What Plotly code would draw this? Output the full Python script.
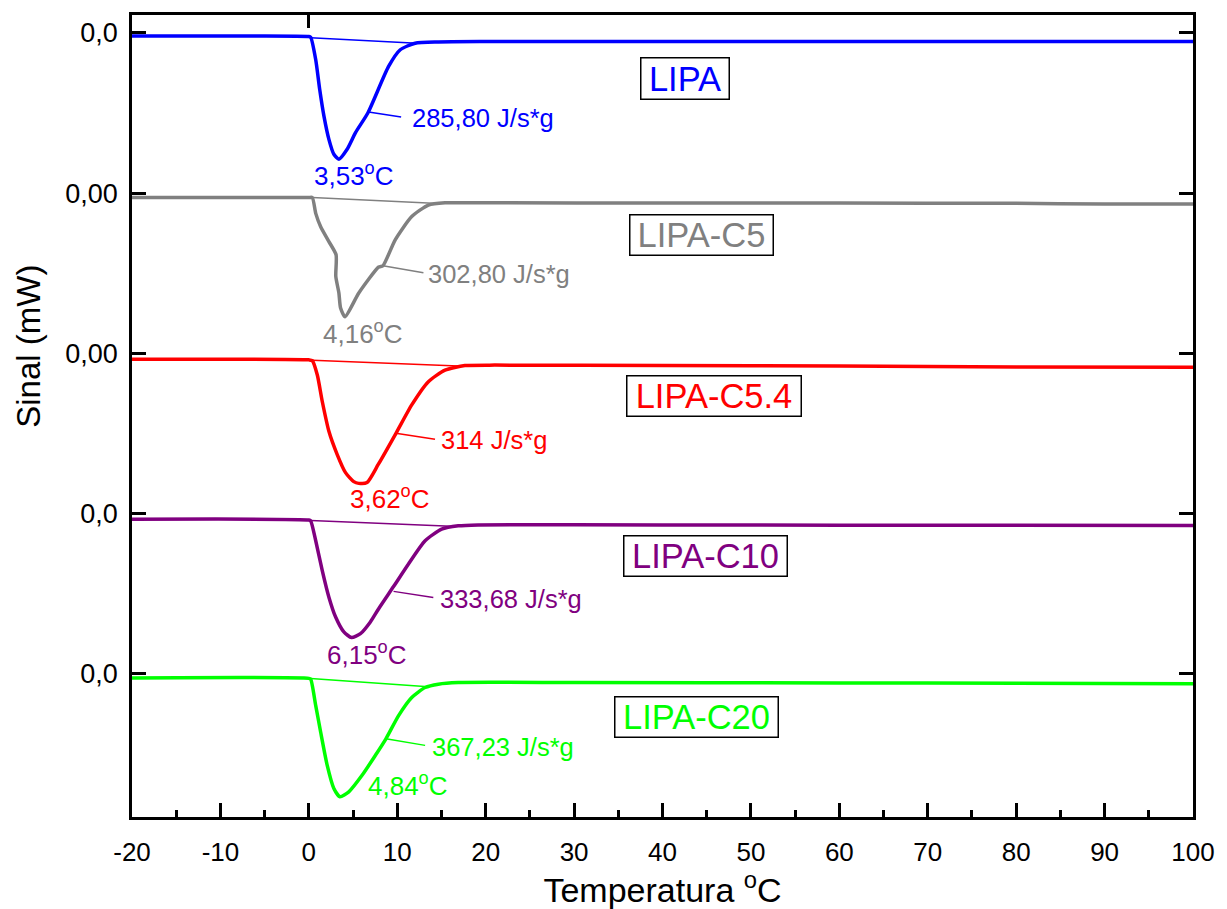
import plotly.graph_objects as go

# DSC melting curves, stacked with a vertical offset per sample
samples = ["LIPA", "LIPA-C5", "LIPA-C5.4", "LIPA-C10", "LIPA-C20"]
colors = ["#0000FF", "#808080", "#FF0000", "#800080", "#00FF00"]
offsets = [4, 3, 2, 1, 0]
tick_text = ["0,0", "0,00", "0,00", "0,0", "0,0"]

lipa_t = [-20, -10, 0, 0.21, 0.78, 1.23, 1.71, 2.27, 2.83, 3.40, 4.33, 5.28, 6.69, 9.02, 10.34, 12.02, 14.65, 20, 40, 60, 80, 100]
lipa_s = [-0.019, -0.019, -0.022, -0.027, -0.167, -0.353, -0.519, -0.664, -0.757, -0.788, -0.726, -0.622, -0.498, -0.209, -0.105, -0.064, -0.056, -0.054, -0.054, -0.054, -0.054, -0.054]

c5_t = [-20, 0, 0.39, 0.78, 1.34, 2.27, 3.08, 3.05, 3.40, 3.59, 4.10, 5.65, 7.90, 8.38, 9.77, 11.64, 13.52, 15.40, 20, 40, 60, 80, 90, 100]
c5_s = [-0.027, -0.027, -0.027, -0.126, -0.209, -0.302, -0.384, -0.519, -0.623, -0.717, -0.771, -0.623, -0.461, -0.453, -0.291, -0.146, -0.074, -0.060, -0.060, -0.061, -0.062, -0.063, -0.068, -0.068]

c54_t = [-20, 0, 0.39, 0.96, 1.52, 2.27, 3.21, 4.15, 5.08, 5.65, 6.58, 7.85, 9.84, 11.64, 13.52, 15.40, 17.65, 21.02, 40, 60, 80, 100]
c54_s = [-0.037, -0.040, -0.045, -0.135, -0.300, -0.486, -0.631, -0.744, -0.800, -0.811, -0.806, -0.693, -0.500, -0.321, -0.176, -0.104, -0.076, -0.073, -0.075, -0.078, -0.084, -0.087]

c10_t = [-20, 0, 0.21, 0.78, 1.52, 2.27, 3.03, 3.96, 4.83, 5.84, 6.96, 7.90, 9.58, 11.27, 13.15, 15.02, 16.90, 19.15, 40, 60, 80, 100]
c10_s = [-0.035, -0.040, -0.045, -0.169, -0.355, -0.521, -0.645, -0.738, -0.773, -0.749, -0.676, -0.593, -0.455, -0.314, -0.169, -0.097, -0.076, -0.070, -0.070, -0.072, -0.073, -0.074]

c20_t = [-20, 0, 0.21, 0.78, 1.34, 2.08, 2.83, 3.51, 4.52, 6.02, 7.53, 8.72, 10.15, 11.64, 13.15, 14.65, 16.90, 30, 60, 80, 100]
c20_s = [-0.025, -0.028, -0.033, -0.198, -0.364, -0.571, -0.715, -0.767, -0.736, -0.633, -0.508, -0.405, -0.260, -0.147, -0.085, -0.064, -0.054, -0.054, -0.056, -0.058, -0.062]

curves_t = [lipa_t, c5_t, c54_t, c10_t, c20_t]
curves_s = [lipa_s, c5_s, c54_s, c10_s, c20_s]

# integration baselines (start / end of each peak)
base_t = [[0.21, 12.2], [0.39, 14.65], [0.39, 16.9], [0.21, 16.1], [0.21, 13.5]]
base_s = [[-0.030, -0.064], [-0.027, -0.064], [-0.042, -0.078], [-0.042, -0.078], [-0.029, -0.080]]

peak_temp = [3.53, 4.16, 3.62, 6.15, 4.84]
enthalpy = ["285,80", "302,80", "314", "333,68", "367,23"]

# label placement (temperature, signal relative to the sample's zero)
peak_label_pos = [(5.09, -0.881), (6.10, -0.867), (9.13, -0.902), (6.55, -0.870), (11.21, -0.691)]
dh_label_pos = [(11.39, -0.533), (13.30, -0.505), (14.73, -0.543), (14.62, -0.535), (13.75, -0.457)]
leader_pos = [(6.75, -0.494, 10.44, -0.525), (8.38, -0.453, 12.96, -0.496), (9.84, -0.498, 14.27, -0.535),
              (9.58, -0.485, 14.08, -0.523), (8.72, -0.405, 13.15, -0.446)]
name_pos = [(42.54, -0.282), (44.45, -0.263), (45.84, -0.265), (44.83, -0.263), (43.84, -0.272)]
name_box = [(90, 43), (145, 42), (176, 42), (165, 42), (165, 42)]

FONT = "Liberation Sans, Arial, sans-serif"

fig = go.Figure()
annotations = []
shapes = []
for i in range(5):
    off = offsets[i]
    col = colors[i]
    fig.add_trace(go.Scatter(x=base_t[i], y=[v + off for v in base_s[i]], mode="lines",
                             line=dict(color=col, width=1.5), showlegend=False, hoverinfo="skip"))
    fig.add_trace(go.Scatter(x=curves_t[i], y=[v + off for v in curves_s[i]], mode="lines",
                             name=samples[i], line=dict(color=col, width=3.5, shape="spline", smoothing=0.6),
                             showlegend=False))
    px_, py_ = peak_label_pos[i]
    annotations.append(dict(x=px_, y=py_ + off, xref="x", yref="y", showarrow=False,
                            text=f"{peak_temp[i]:.2f}".replace(".", ",") + "<sup>o</sup>C",
                            font=dict(family=FONT, size=26, color=col), xanchor="center", yanchor="middle"))
    dx, dy = dh_label_pos[i]
    annotations.append(dict(x=dx, y=dy + off, xref="x", yref="y", showarrow=False,
                            text=f"{enthalpy[i]} J/s*g",
                            font=dict(family=FONT, size=25.5, color=col), xanchor="left", yanchor="middle"))
    x0, y0, x1, y1 = leader_pos[i]
    shapes.append(dict(type="line", xref="x", yref="y", x0=x0, y0=y0 + off, x1=x1, y1=y1 + off,
                       line=dict(color=col, width=1.5)))
    nx, ny = name_pos[i]
    w, h = name_box[i]
    annotations.append(dict(x=nx, y=ny + off, xref="x", yref="y", showarrow=False, text=samples[i],
                            font=dict(family=FONT, size=34.5, color=col), xanchor="center", yanchor="middle",
                            bordercolor="black", borderwidth=1.5, borderpad=0, width=w - 3, height=h - 3,
                            bgcolor="white"))

annotations.append(dict(x=-0.0975, y=0.587, xref="paper", yref="paper", showarrow=False, text="Sinal (mW)",
                        textangle=-90, font=dict(family=FONT, size=33, color="black"),
                        xanchor="center", yanchor="middle"))

# single tick mark on the top edge at 0 °C
fig.add_trace(go.Scatter(x=[0], y=[None], xaxis="x2", yaxis="y", mode="lines",
                         showlegend=False, hoverinfo="skip"))

fig.update_layout(
    width=1227, height=909,
    margin=dict(l=132, r=28, t=15, b=87),
    paper_bgcolor="white", plot_bgcolor="white",
    annotations=annotations, shapes=shapes,
    xaxis=dict(range=[-20, 100], tickmode="array", tickvals=list(range(-20, 101, 10)),
               ticktext=[str(v) for v in range(-20, 101, 10)],
               ticks="inside", ticklen=14, tickwidth=2.5, tickcolor="black",
               minor=dict(ticks="inside", ticklen=7, tickwidth=2.5, tickcolor="black", dtick=5, tick0=0, showgrid=False),
               showline=True, linecolor="black", linewidth=2.5, mirror=True,
               showgrid=False, zeroline=False,
               tickfont=dict(family=FONT, size=26, color="black"), ticklabelstandoff=10,
               title=dict(text="Temperatura <sup>o</sup>C", font=dict(family=FONT, size=34, color="black"), standoff=6)),
    xaxis2=dict(range=[-20, 100], overlaying="x", side="top", anchor="y", tickmode="array", tickvals=[0],
                ticks="inside", ticklen=13, tickwidth=2.5, tickcolor="black", showticklabels=False,
                showline=False, showgrid=False, zeroline=False),
    yaxis=dict(range=[-0.893, 4.112], tickmode="array", tickvals=offsets, ticktext=tick_text,
               ticks="inside", ticklen=14, tickwidth=2.5, tickcolor="black",
               showline=True, linecolor="black", linewidth=2.5, mirror="ticks",
               showgrid=False, zeroline=False,
               tickfont=dict(family=FONT, size=27, color="black"), ticklabelstandoff=6),
)

fig.write_html("out.html")
